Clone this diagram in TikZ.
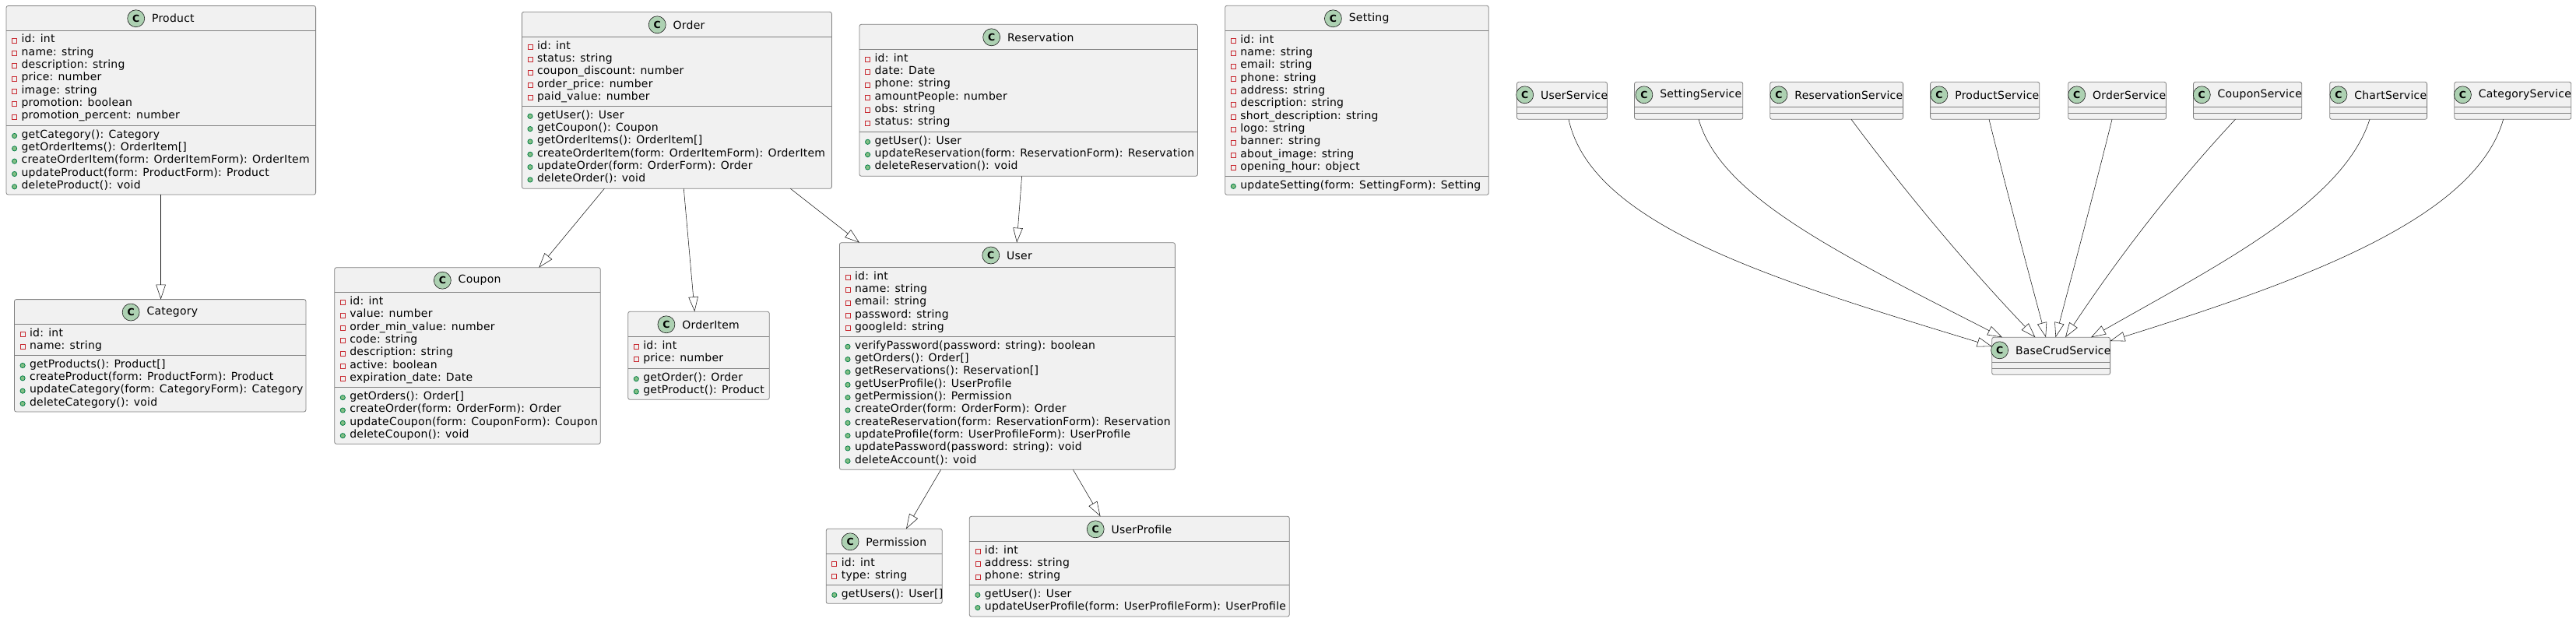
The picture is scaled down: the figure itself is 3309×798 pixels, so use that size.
\documentclass[tikz,border=0pt]{standalone}
\usepackage{fontspec}
\setmainfont[LetterSpace=1.7]{DejaVu Sans}
\usetikzlibrary{arrows.meta}
\definecolor{boxfill}{HTML}{F1F1F1}
\definecolor{boxline}{HTML}{808080}
\definecolor{edgeline}{HTML}{181818}
\definecolor{iconfill}{HTML}{ADD1B2}
\definecolor{privline}{HTML}{C82930}
\definecolor{pubfill}{HTML}{84BE84}
\definecolor{publine}{HTML}{038048}
\tikzset{
  classbox/.style={draw=boxline,fill=boxfill,line width=.8pt,rounded corners=2.5pt,
    rectangle,inner sep=0pt,outer sep=0pt},
  classrule/.style={draw=boxline,line width=.8pt},
  classtitle/.style={inner sep=0pt,font=\fontsize{14}{16}\selectfont,text=black},
  classicon/.style={circle,draw=edgeline,fill=iconfill,line width=.6pt,inner sep=0pt,
    minimum size=22pt,font=\bfseries\fontsize{12.5}{15}\selectfont},
  memberlabel/.style={inner sep=0pt,anchor=mid west,font=\fontsize{14}{16}\selectfont,text=black},
  privicon/.style={rectangle,draw=privline,line width=.8pt,inner sep=0pt,minimum size=6pt},
  pubicon/.style={circle,draw=publine,fill=pubfill,line width=.8pt,inner sep=0pt,minimum size=6.2pt},
  genline/.style={draw=edgeline,line width=.55pt,
    -{Triangle[open,length=19pt,width=12.5pt,line width=.55pt]}}
}
% name, left, top, right, bottom, head rule, member rule, title
\newcommand{\umlclass}[8]{
  \pgfmathsetmacro{\cw}{#4-#2}
  \pgfmathsetmacro{\ch}{#5-#3}
  \node[classbox,minimum width=\cw pt,minimum height=\ch pt] (#1) at ({(#2+#4)/2},{(#3+#5)/2}) {};
  \draw[classrule] (#2,#6) -- (#4,#6);
  \draw[classrule] (#2,#7) -- (#4,#7);
  \node[classtitle] (#1-title) at ({(#2+#4)/2},{(#3+#6)/2+.5}) {\hspace{31.2pt}#8};
  \node[classicon] (#1-icon) at ([xshift=11]#1-title.west) {C};
}
% class name, icon style, rule above, rows
\newcommand{\umlrows}[4]{
  \foreach \txt [count=\i from 0] in {#4} {
    \pgfmathsetmacro{\ry}{#3+13+\i*16.33}
    \node[#2] (#1-#2-\i) at ([xshift=10.6]#1.west |- 0,\ry) {};
    \node[memberlabel] (#1-#2-text-\i) at ([xshift=19.4]#1.west |- 0,\ry) {\txt};
  }
}
\begin{document}
\begin{tikzpicture}[x=1pt,y=-1pt]
\useasboundingbox (0,0) rectangle (3309,798);

\umlclass{product}{8}{7.5}{405.6}{250}{39}{161.5}{Product}
\umlrows{product}{privicon}{39}{id: int,name: string,description: string,price: number,image: string,promotion: boolean,promotion\_percent: number}
\umlrows{product}{pubicon}{161.5}{getCategory(): Category,getOrderItems(): OrderItem[],createOrderItem(form: OrderItemForm): OrderItem,updateProduct(form: ProductForm): Product,deleteProduct(): void}

\umlclass{category}{18.5}{384.6}{393}{529}{416.5}{456.5}{Category}
\umlrows{category}{privicon}{416.5}{id: int,name: string}
\umlrows{category}{pubicon}{456.5}{getProducts(): Product[],createProduct(form: ProductForm): Product,updateCategory(form: CategoryForm): Category,deleteCategory(): void}

\umlclass{coupon}{429.7}{343.7}{771.3}{570.3}{375.7}{497.7}{Coupon}
\umlrows{coupon}{privicon}{375.7}{id: int,value: number,order\_min\_value: number,code: string,description: string,active: boolean,expiration\_date: Date}
\umlrows{coupon}{pubicon}{497.7}{getOrders(): Order[],createOrder(form: OrderForm): Order,updateCoupon(form: CouponForm): Coupon,deleteCoupon(): void}

\umlclass{order}{670.4}{15.3}{1068.4}{242.3}{47.3}{136.3}{Order}
\umlrows{order}{privicon}{47.3}{id: int,status: string,coupon\_discount: number,order\_price: number,paid\_value: number}
\umlrows{order}{pubicon}{136.3}{getUser(): User,getCoupon(): Coupon,getOrderItems(): OrderItem[],createOrderItem(form: OrderItemForm): OrderItem,updateOrder(form: OrderForm): Order,deleteOrder(): void}

\umlclass{orderitem}{806.7}{400.3}{988.3}{513.3}{432.3}{473.7}{OrderItem}
\umlrows{orderitem}{privicon}{432.3}{id: int,price: number}
\umlrows{orderitem}{pubicon}{473.7}{getOrder(): Order,getProduct(): Product}

\umlclass{reservation}{1104}{31.3}{1538.4}{226.3}{63.3}{169.3}{Reservation}
\umlrows{reservation}{privicon}{63.3}{id: int,date: Date,phone: string,amountPeople: number,obs: string,status: string}
\umlrows{reservation}{pubicon}{169.3}{getUser(): User,updateReservation(form: ReservationForm): Reservation,deleteReservation(): void}

\umlclass{setting}{1573.7}{7.3}{1912.3}{250.3}{39.3}{226.3}{Setting}
\umlrows{setting}{privicon}{39.3}{id: int,name: string,email: string,phone: string,address: string,description: string,short\_description: string,logo: string,banner: string,about\_image: string,opening\_hour: object}
\umlrows{setting}{pubicon}{226.3}{updateSetting(form: SettingForm): Setting}

\umlclass{user}{1078.4}{311.7}{1509.4}{603.3}{343.3}{432.3}{User}
\umlrows{user}{privicon}{343.3}{id: int,name: string,email: string,password: string,googleId: string}
\umlrows{user}{pubicon}{432.3}{verifyPassword(password: string): boolean,getOrders(): Order[],getReservations(): Reservation[],getUserProfile(): UserProfile,getPermission(): Permission,createOrder(form: OrderForm): Order,createReservation(form: ReservationForm): Reservation,updateProfile(form: UserProfileForm): UserProfile,updatePassword(password: string): void,deleteAccount(): void}

\umlclass{permission}{1061.2}{679.3}{1210.2}{775.3}{711.3}{751.3}{Permission}
\umlrows{permission}{privicon}{711.3}{id: int,type: string}
\umlrows{permission}{pubicon}{751.3}{getUsers(): User[]}

\umlclass{userprofile}{1245.3}{663.3}{1656.3}{792}{695.3}{751.3}{UserProfile}
\umlrows{userprofile}{privicon}{695.3}{id: int,address: string,phone: string}
\umlrows{userprofile}{pubicon}{751.3}{getUser(): User,updateUserProfile(form: UserProfileForm): UserProfile}

\foreach \sname/\sleft/\sright/\stitle in {userservice/1948.5/2064.5/UserService,
  settingservice/2099.5/2238.8/SettingService,reservationservice/2273.8/2444.6/ReservationService,
  productservice/2479.6/2619.8/ProductService,orderservice/2656.7/2782.5/OrderService,
  couponservice/2817.5/2956.8/CouponService,chartservice/2992.7/3117.6/ChartService,
  categoryservice/3152.7/3302.8/CategoryService}
  {\umlclass{\sname}{\sleft}{105.3}{\sright}{153.3}{137.3}{145.3}{\stitle}}
\umlclass{basecrud}{2558.7}{433.3}{2710.6}{481.3}{465.3}{473.3}{BaseCrudService}

\draw[genline] ([xshift=-.2]product.south) -- ([xshift=.85]category.north);
\draw[genline] ([xshift=-93.1]order.south) -- ([xshift=91.8]coupon.north);
\draw[genline] ([xshift=8.9]order.south) -- ([xshift=-5.2]orderitem.north);
\draw[genline] ([xshift=146]order.south) -- ([xshift=-189.9]user.north);
\draw[genline] ([xshift=-8.6]reservation.south) -- ([xshift=12.2]user.north);
\draw[genline] ([xshift=-85.3]user.south) -- ([xshift=28.3]permission.north);
\draw[genline] ([xshift=84.5]user.south) -- ([xshift=-37.3]userprofile.north);

\draw[genline] ([xshift=8.5]userservice.south) .. controls (2045,290) and (2280,360) .. ([yshift=12.3]basecrud.west);
\draw[genline] ([xshift=12.85]settingservice.south) .. controls (2210,250) and (2350,320) .. ([xshift=-62.65]basecrud.north);
\draw[genline] ([xshift=18.8]reservationservice.south) .. controls (2450,250) and (2530,345) .. ([xshift=-20.25]basecrud.north);
\draw[genline] ([xshift=5.3]productservice.south) .. controls (2578,246) and (2603,340) .. ([xshift=-6.65]basecrud.north);
\draw[genline] ([xshift=-6.6]orderservice.south) .. controls (2690,246) and (2665,340) .. ([xshift=5.85]basecrud.north);
\draw[genline] ([xshift=-15.75]couponservice.south) .. controls (2785,246) and (2715,340) .. ([xshift=18.35]basecrud.north);
\draw[genline] ([xshift=-11.15]chartservice.south) .. controls (3010,260) and (2850,340) .. ([xshift=51.35]basecrud.north);
\draw[genline] ([xshift=-12.15]categoryservice.south) .. controls (3180,280) and (2960,360) .. ([yshift=19.3]basecrud.east);
\end{tikzpicture}
\end{document}
